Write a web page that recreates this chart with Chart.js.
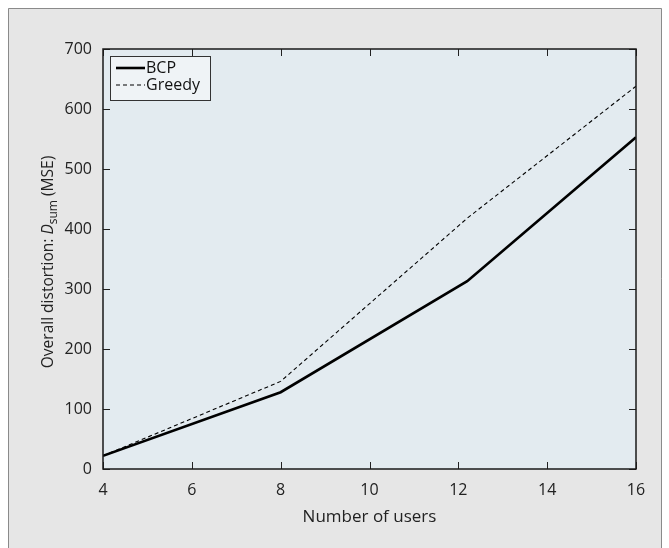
<!DOCTYPE html>
<html>
<head>
<meta charset="utf-8">
<script src="https://cdn.jsdelivr.net/npm/chart.js@4/dist/chart.umd.min.js"></script>
<style>
  html, body { margin: 0; padding: 0; background: #fff; }
  #wrap { width: 669px; height: 548px; }
</style>
</head>
<body>
<div id="wrap"><canvas id="chart" width="669" height="548"></canvas></div>
<script>
// данные
const users = [4, 8, 12.2, 16];
const bcpValues = [22, 128, 313, 553];
const greedyValues = [22, 146, 418, 638];
const seriesNames = ['BCP', 'Greedy'];
const xTicks = [4, 6, 8, 10, 12, 14, 16];
const yTicks = [0, 100, 200, 300, 400, 500, 600, 700];

const FONT = '"Open Sans", "DejaVu Sans", sans-serif';

function toPoints(xs, ys) {
    return xs.map((x, i) => ({ x: x, y: ys[i] }));
}

// рамка, фон и всё, что Chart.js сам не рисует
const decor = {
    id: 'decor',
    beforeDraw(chart) {
        const ctx = chart.ctx;
        const a = chart.chartArea;
        ctx.save();
        ctx.fillStyle = '#ffffff';
        ctx.fillRect(0, 0, chart.width, chart.height);
        ctx.fillStyle = '#e6e6e6';
        ctx.fillRect(8, 8, 654, chart.height);
        ctx.strokeStyle = '#8a8a8a';
        ctx.lineWidth = 1;
        ctx.beginPath();
        ctx.moveTo(8.5, chart.height + 2);
        ctx.lineTo(8.5, 8.5);
        ctx.lineTo(661.5, 8.5);
        ctx.lineTo(661.5, chart.height + 2);
        ctx.stroke();
        ctx.fillStyle = '#e3ebf0';
        ctx.fillRect(a.left, a.top, a.right - a.left, a.bottom - a.top);
        ctx.restore();
    },
    afterDraw(chart) {
        const ctx = chart.ctx;
        const a = chart.chartArea;
        const xs = chart.scales.x;
        const ys = chart.scales.y;
        ctx.save();

        // засечки внутрь
        ctx.strokeStyle = '#222';
        ctx.lineWidth = 1;
        ctx.beginPath();
        xTicks.forEach(v => {
            const px = Math.round(xs.getPixelForValue(v)) + 0.5;
            ctx.moveTo(px, a.bottom); ctx.lineTo(px, a.bottom - 7);
            ctx.moveTo(px, a.top); ctx.lineTo(px, a.top + 7);
        });
        yTicks.forEach(v => {
            const py = Math.round(ys.getPixelForValue(v)) + 0.5;
            ctx.moveTo(a.left, py); ctx.lineTo(a.left + 7, py);
            ctx.moveTo(a.right, py); ctx.lineTo(a.right - 7, py);
        });
        ctx.stroke();

        // рамка графика
        ctx.lineWidth = 1.5;
        ctx.strokeStyle = '#1a1a1a';
        ctx.strokeRect(a.left, a.top, a.right - a.left, a.bottom - a.top);

        // легенда
        const lx = a.left + 7, ly = a.top + 7, lw = 100, lh = 44;
        ctx.fillStyle = '#eff3f6';
        ctx.fillRect(lx, ly, lw, lh);
        ctx.strokeStyle = '#333';
        ctx.lineWidth = 1;
        ctx.strokeRect(lx + 0.5, ly + 0.5, lw, lh);
        ctx.font = '16px ' + FONT;
        ctx.textBaseline = 'middle';
        ctx.fillStyle = '#111';
        chart.data.datasets.forEach((ds, i) => {
            const rowY = ly + 12 + i * 17;
            ctx.beginPath();
            ctx.strokeStyle = '#000';
            ctx.lineWidth = ds.borderWidth;
            ctx.setLineDash(ds.borderDash || []);
            ctx.moveTo(lx + 6, rowY);
            ctx.lineTo(lx + 35, rowY);
            ctx.stroke();
            ctx.setLineDash([]);
            ctx.fillText(ds.label, lx + 36, rowY);
        });

        // подпись оси Y: Overall distortion: D_sum (MSE)
        const cx = 44, cy = 262;
        ctx.translate(cx, cy);
        ctx.rotate(-Math.PI / 2);
        ctx.fillStyle = '#222';
        ctx.textBaseline = 'alphabetic';
        ctx.textAlign = 'left';
        const parts = [
            { t: 'Overall distortion: ', f: '15.5px ' + FONT, dy: 0 },
            { t: 'D', f: 'italic 15.5px ' + FONT, dy: 0 },
            { t: 'sum', f: '12px ' + FONT, dy: 4 },
            { t: ' (MSE)', f: '15.5px ' + FONT, dy: 0 }
        ];
        let total = 0;
        parts.forEach(p => { ctx.font = p.f; p.w = ctx.measureText(p.t).width; total += p.w; });
        let x = -total / 2;
        parts.forEach(p => {
            ctx.font = p.f;
            ctx.fillText(p.t, x, 9 + p.dy);
            x += p.w;
        });
        ctx.restore();
    }
};

new Chart(document.getElementById('chart').getContext('2d'), {
    type: 'line',
    data: {
        datasets: [
            {
                label: seriesNames[0],
                data: toPoints(users, bcpValues),
                borderColor: '#000',
                borderWidth: 2.6,
                pointRadius: 0,
                tension: 0,
                fill: false
            },
            {
                label: seriesNames[1],
                data: toPoints(users, greedyValues),
                borderColor: '#000',
                borderWidth: 1.1,
                borderDash: [4, 3],
                pointRadius: 0,
                tension: 0,
                fill: false
            }
        ]
    },
    options: {
        responsive: false,
        animation: false,
        layout: { padding: { left: 0, top: 49, right: 33, bottom: 0 } },
        plugins: {
            legend: { display: false },
            tooltip: { enabled: false }
        },
        scales: {
            x: {
                type: 'linear',
                min: 4,
                max: 16,
                afterBuildTicks: s => { s.ticks = xTicks.map(v => ({ value: v })); },
                afterFit: s => { s.height = 79; },
                grid: { display: false, drawTicks: false },
                border: { display: false },
                ticks: { padding: 12, color: '#222', font: { family: FONT, size: 16 } },
                title: {
                    display: true,
                    text: 'Number of users',
                    color: '#222',
                    font: { family: FONT, size: 17 },
                    padding: { top: 0, bottom: 21 }
                }
            },
            y: {
                min: 0,
                max: 700,
                afterBuildTicks: s => { s.ticks = yTicks.map(v => ({ value: v })); },
                afterFit: s => { s.width = 103; },
                grid: { display: false, drawTicks: false },
                border: { display: false },
                ticks: { padding: 11, color: '#222', font: { family: FONT, size: 16 } }
            }
        }
    },
    plugins: [decor]
});
</script>
</body>
</html>
